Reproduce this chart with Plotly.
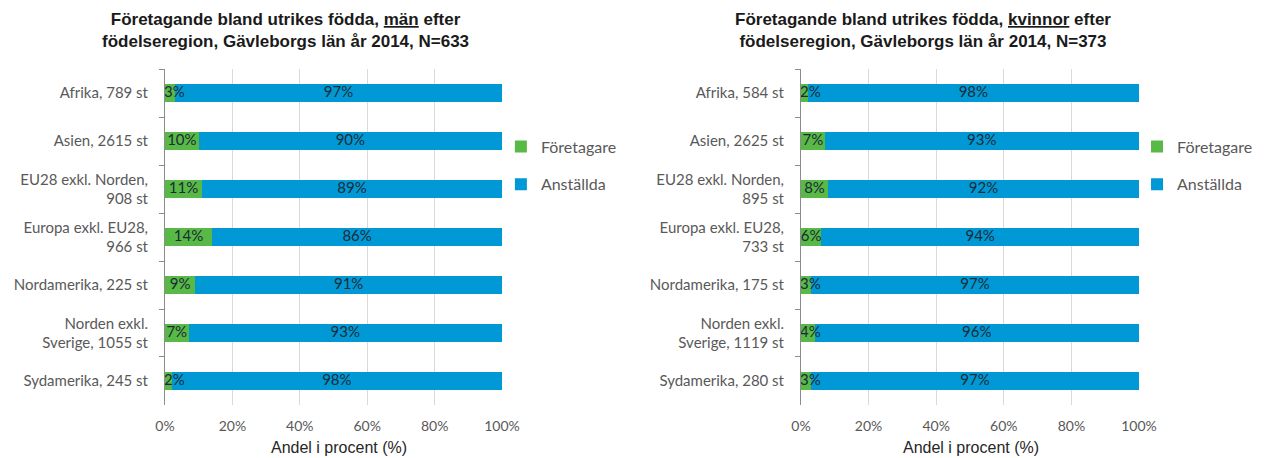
import plotly.graph_objects as go

cats_men = ["Afrika, 789 st", "Asien, 2615 st", "EU28 exkl. Norden,<br>908 st",
            "Europa exkl. EU28,<br>966 st", "Nordamerika, 225 st",
            "Norden exkl.<br>Sverige, 1055 st", "Sydamerika, 245 st"]
men_foretagare = [3, 10, 11, 14, 9, 7, 2]
men_anstallda = [97, 90, 89, 86, 91, 93, 98]

cats_women = ["Afrika, 584 st", "Asien, 2625 st", "EU28 exkl. Norden,<br>895 st",
              "Europa exkl. EU28,<br>733 st", "Nordamerika, 175 st",
              "Norden exkl.<br>Sverige, 1119 st", "Sydamerika, 280 st"]
women_foretagare = [2, 7, 8, 6, 3, 4, 3]
women_anstallda = [98, 93, 92, 94, 97, 96, 97]

x_ticks = [0, 20, 40, 60, 80, 100]
x_ticklabels = ["0%", "20%", "40%", "60%", "80%", "100%"]
x_title = "Andel i procent (%)"

GREEN = "#58B947"
BLUE = "#0099D5"
TXT = "#595959"
LBL = "#1C2B36"
FONT = "Lato"

fig = go.Figure()


def add_pair(cats, f, a, xa, ya, legend):
    fig.add_trace(go.Bar(y=cats, x=f, orientation="h", name="Företagare",
                         marker=dict(color=GREEN, line=dict(width=0)),
                         xaxis=xa, yaxis=ya, legend=legend, legendgroup="f",
                         width=0.36, hoverinfo="skip"))
    fig.add_trace(go.Bar(y=cats, x=a, orientation="h", name="Anställda",
                         marker=dict(color=BLUE, line=dict(width=0)),
                         xaxis=xa, yaxis=ya, legend=legend, legendgroup="a",
                         width=0.36, hoverinfo="skip"))
    # data labels (Excel-style: centred in segment, kept right of the axis)
    fig.add_trace(go.Scatter(y=cats, x=[max(v / 2, 2.8) for v in f], mode="text",
                             text=[f"{v}%" for v in f], textposition="middle center",
                             textfont=dict(color=LBL, size=15, family=FONT),
                             xaxis=xa, yaxis=ya, showlegend=False, hoverinfo="skip"))
    fig.add_trace(go.Scatter(y=cats, x=[fv + av / 2 for fv, av in zip(f, a)], mode="text",
                             text=[f"{v}%" for v in a], textposition="middle center",
                             textfont=dict(color=LBL, size=15, family=FONT),
                             xaxis=xa, yaxis=ya, showlegend=False, hoverinfo="skip"))


add_pair(cats_men, men_foretagare, men_anstallda, "x", "y", "legend")
add_pair(cats_women, women_foretagare, women_anstallda, "x2", "y2", "legend2")

xcommon = dict(range=[0, 100], tickvals=x_ticks, ticktext=x_ticklabels,
               showgrid=True, gridcolor="#D9D9D9", gridwidth=1,
               zeroline=False, showline=False, ticks="", automargin=False,
               ticklabelstandoff=11,
               tickfont=dict(family=FONT, size=14, color=TXT),
               fixedrange=True)
ycommon = dict(autorange="reversed", type="category", showgrid=False,
               showline=True, linecolor="#8C8C8C", linewidth=1, automargin=False,
               ticks="outside", ticklen=5, tickcolor="#8C8C8C", tickson="boundaries",
               tickfont=dict(family=FONT, size=15, color=TXT), ticklabelstandoff=13,
               fixedrange=True)

legcommon = dict(yanchor="top", font=dict(family=FONT, size=16, color=TXT),
                 tracegroupgap=14, itemwidth=30, bgcolor="rgba(0,0,0,0)",
                 traceorder="grouped")

W, H = 1251, 450
fig.update_layout(
    width=W, height=H,
    margin=dict(l=0, r=0, t=0, b=0, autoexpand=False),
    paper_bgcolor="white", plot_bgcolor="white",
    barmode="stack",
    xaxis=dict(domain=[0.1255, 0.3949], anchor="y", **xcommon),
    yaxis=dict(domain=[0.1178, 0.8644], anchor="x", **ycommon),
    xaxis2=dict(domain=[0.6339, 0.9041], anchor="y2", **xcommon),
    yaxis2=dict(domain=[0.1178, 0.8644], anchor="x2", **ycommon),
    legend=dict(x=0.394, y=0.73, xanchor="left", **legcommon),
    legend2=dict(x=0.9025, y=0.73, xanchor="left", **legcommon),
    showlegend=True,
)

title_font = dict(family="Liberation Sans, Arial", size=17, color="#1a1a1a")
fig.add_annotation(text="<b>Företagande bland utrikes födda, <u>män</u> efter<br>födelseregion, Gävleborgs län år 2014, N=633</b>",
                   x=0.2222, y=1.0, xref="paper", yref="paper", xanchor="center", yanchor="top",
                   showarrow=False, font=title_font, align="center")
fig.add_annotation(text="<b>Företagande bland utrikes födda, <u>kvinnor</u> efter<br>födelseregion, Gävleborgs län år 2014, N=373</b>",
                   x=0.7314, y=1.0, xref="paper", yref="paper", xanchor="center", yanchor="top",
                   showarrow=False, font=title_font, align="center")

axis_title_font = dict(family="Liberation Sans", size=16, color="#262626")
for xc in (0.2646, 0.7698):
    fig.add_annotation(text=x_title, x=xc, y=0.0244, xref="paper", yref="paper",
                       xanchor="center", yanchor="middle", showarrow=False,
                       font=axis_title_font)

fig.write_html("out.html")
